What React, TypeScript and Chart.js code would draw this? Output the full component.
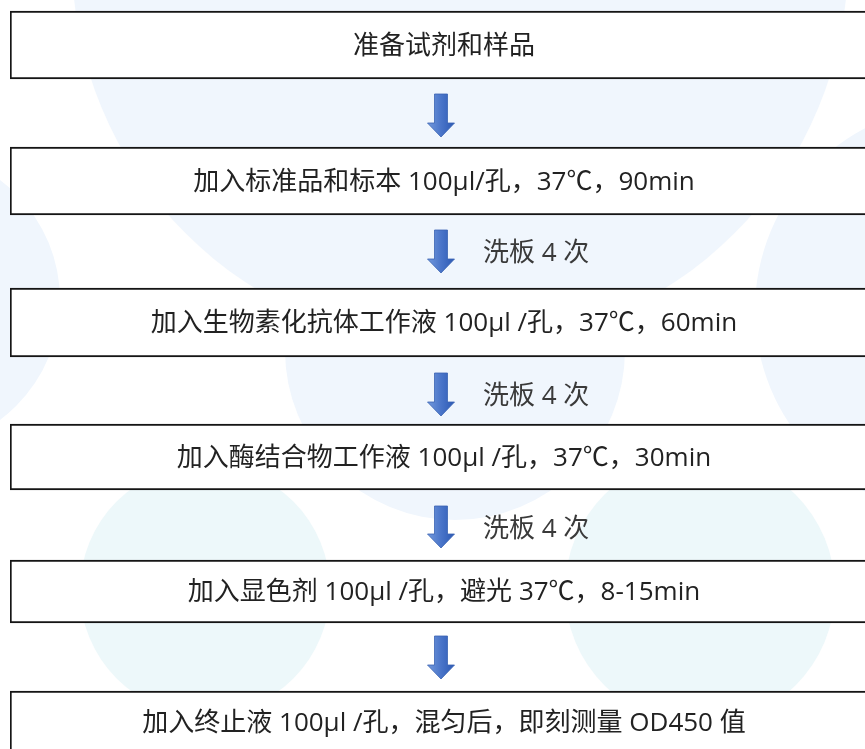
import React, { useEffect, useRef } from "react";
import { Chart, registerables } from "chart.js";

Chart.register(...registerables);

// Flow steps (box texts) and their vertical extents (in layout units, top = 0)
const steps = [
  "准备试剂和样品",
  "加入标准品和标本 100µl/孔，37℃，90min",
  "加入生物素化抗体工作液 100µl /孔，37℃，60min",
  "加入酶结合物工作液 100µl /孔，37℃，30min",
  "加入显色剂 100µl /孔，避光 37℃，8-15min",
  "加入终止液 100µl /孔，混匀后，即刻测量 OD450 值",
];
const stepTop = [11, 147, 288, 424, 560, 691];
const stepBottom = [79, 215, 357, 490, 623, 758];

// Arrows between the steps
const arrowTop = [94, 230, 373, 506, 636];
const arrowBottom = [137, 273, 416, 548, 679];
const arrowLabels = ["", "洗板 4 次", "洗板 4 次", "洗板 4 次", ""];

const FONT = '"Open Sans", "Noto Sans CJK SC", sans-serif';

const backgroundPlugin = {
  id: "flowBackground",
  beforeDraw(chart: any) {
    const ctx = chart.ctx;
    ctx.save();
    ctx.fillStyle = "#ffffff";
    ctx.fillRect(0, 0, chart.width, chart.height);
    const blobs = [
      { x: 460, y: -41, r: 388, c: "#f0f6fd" },
      { x: 455, y: 350, r: 170, c: "#f0f6fd" },
      { x: -90, y: 300, r: 150, c: "#f0f6fd" },
      { x: 960, y: 310, r: 205, c: "#f0f6fd" },
      { x: 205, y: 590, r: 125, c: "#edf8fa" },
      { x: 700, y: 590, r: 135, c: "#edf8fa" },
      { x: 460, y: 770, r: 70, c: "#edf8fa" },
    ];
    blobs.forEach((b) => {
      ctx.beginPath();
      ctx.arc(b.x, b.y, b.r, 0, Math.PI * 2);
      ctx.fillStyle = b.c;
      ctx.fill();
    });
    ctx.restore();
  },
};

const flowPlugin = {
  id: "flowLabels",
  afterDatasetsDraw(chart: any) {
    const ctx = chart.ctx;
    const yScale = chart.scales.y;
    const meta = chart.getDatasetMeta(0);
    ctx.save();
    // step texts
    ctx.font = `26px ${FONT}`;
    ctx.fillStyle = "#222222";
    ctx.textAlign = "center";
    ctx.textBaseline = "middle";
    meta.data.forEach((el: any, i: number) => {
      const cy = (el.y + el.base) / 2;
      ctx.fillText(steps[i], el.x, Math.min(cy, 722) + 1.5);
    });
    // arrows
    const ax = meta.data[0].x - 3;
    const shaftHalf = 6.5;
    const headHalf = 13.5;
    const headLen = 14;
    arrowTop.forEach((t, i) => {
      const y1 = yScale.getPixelForValue(t);
      const y2 = yScale.getPixelForValue(arrowBottom[i]);
      const grad = ctx.createLinearGradient(ax - headHalf, 0, ax + headHalf, 0);
      grad.addColorStop(0, "#7399dc");
      grad.addColorStop(0.5, "#4a75c9");
      grad.addColorStop(1, "#2c59b4");
      ctx.beginPath();
      ctx.moveTo(ax - shaftHalf, y1);
      ctx.lineTo(ax + shaftHalf, y1);
      ctx.lineTo(ax + shaftHalf, y2 - headLen);
      ctx.lineTo(ax + headHalf, y2 - headLen);
      ctx.lineTo(ax, y2);
      ctx.lineTo(ax - headHalf, y2 - headLen);
      ctx.lineTo(ax - shaftHalf, y2 - headLen);
      ctx.closePath();
      ctx.fillStyle = grad;
      ctx.fill();
      ctx.lineWidth = 0.8;
      ctx.strokeStyle = "#3a63b3";
      ctx.stroke();
      if (arrowLabels[i]) {
        ctx.font = `26px ${FONT}`;
        ctx.fillStyle = "#3a3a3a";
        ctx.textAlign = "left";
        ctx.textBaseline = "middle";
        ctx.fillText(arrowLabels[i], ax + 42, (y1 + y2) / 2 + 2.5);
      }
    });
    ctx.restore();
  },
};

export default function App() {
  const canvasRef = useRef<HTMLCanvasElement | null>(null);

  useEffect(() => {
    if (!canvasRef.current) return;
    const chart = new Chart(canvasRef.current, {
      type: "bar",
      data: {
        labels: ["flow"],
        datasets: [
          {
            data: steps.map((_, i) => ({ x: "flow", y: [stepTop[i], stepBottom[i]] })) as any,
            backgroundColor: "#ffffff",
            borderColor: "#151515",
            borderWidth: 2,
            borderSkipped: false,
            categoryPercentage: 1,
            barPercentage: 1,
          } as any,
        ],
      },
      options: {
        animation: false,
        responsive: false,
        devicePixelRatio: 1,
        layout: { padding: { left: 10, right: 22, top: 0, bottom: 0 } },
        scales: {
          x: { type: "category", display: false, offset: true },
          y: { type: "linear", display: false, min: 0, max: 749, reverse: true },
        },
        plugins: {
          legend: { display: false },
          tooltip: { enabled: false },
        },
      },
      plugins: [backgroundPlugin, flowPlugin],
    });
    return () => chart.destroy();
  }, []);

  return (
    <div
      style={{
        position: "absolute",
        left: 0,
        top: 0,
        width: 865,
        height: 749,
        overflow: "hidden",
        background: "#fff",
      }}
    >
      <canvas ref={canvasRef} width={900} height={749} style={{ width: 900, height: 749, display: "block" }} />
    </div>
  );
}
